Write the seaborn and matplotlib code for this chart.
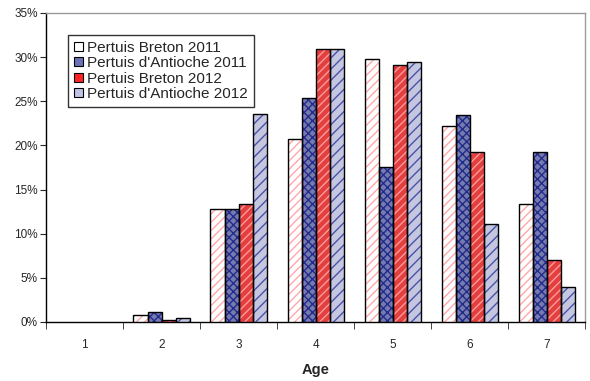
import numpy as np
import pandas as pd
import seaborn as sns
import matplotlib.pyplot as plt
from matplotlib.patches import Rectangle, Patch
from matplotlib.ticker import MultipleLocator, PercentFormatter

ages = ["1", "2", "3", "4", "5", "6", "7"]
series = ["Pertuis Breton 2011", "Pertuis d'Antioche 2011",
          "Pertuis Breton 2012", "Pertuis d'Antioche 2012"]
pb_2011 = [0.0, 0.8, 12.8, 20.7, 29.8, 22.2, 13.4]
pa_2011 = [0.0, 1.1, 12.8, 25.4, 17.6, 23.4, 19.2]
pb_2012 = [0.0, 0.2, 13.4, 30.9, 29.1, 19.2, 7.0]
pa_2012 = [0.0, 0.4, 23.6, 30.9, 29.5, 11.1, 4.0]

faces = ["#ffffff", "#6c72b8", "#ff2424", "#c0c3e6"]
hatch_cols = ["#ffa8a8", "#232b8c", "#ff9a9a", "#4a52a8"]
hatches = ["////", "xxxx", "////", "///"]

df = pd.DataFrame({
    "Age": ages * 4,
    "value": pb_2011 + pa_2011 + pb_2012 + pa_2012,
    "series": np.repeat(series, len(ages)),
})

sns.set_style("white")
plt.rcParams['font.family'] = ['Liberation Sans', 'DejaVu Sans']

fig = plt.figure(figsize=(5.9, 3.81), dpi=100)
ax = fig.add_axes([0.078, 0.155, 0.914, 0.811])

sns.barplot(data=df, x="Age", y="value", hue="series", hue_order=series,
            palette=faces, width=0.73, gap=0, linewidth=0,
            ax=ax, legend=False, zorder=3)

# hatch overlays and black outlines (skip empty bars)
for cont, hc, h in zip(ax.containers, hatch_cols, hatches):
    for bar in cont:
        if bar.get_height() <= 0:
            bar.set_visible(False)
            continue
        ax.add_patch(Rectangle(bar.get_xy(), bar.get_width(), bar.get_height(),
                               facecolor="none", edgecolor=hc, hatch=h, lw=0, zorder=3.5))
        ax.add_patch(Rectangle(bar.get_xy(), bar.get_width(), bar.get_height(),
                               facecolor="none", edgecolor="black", lw=1, zorder=4))

ax.set_ylim(0, 35)
ax.set_xlim(-0.5, 6.5)
ax.yaxis.set_major_locator(MultipleLocator(5))
ax.yaxis.set_major_formatter(PercentFormatter(decimals=0))
ax.tick_params(axis="y", labelsize=8.5, length=4, direction="out", left=True, pad=2)
ax.set_xticks(np.arange(len(ages)))
ax.set_xticklabels(ages)
ax.tick_params(axis="x", labelsize=8.5, length=0, pad=12)
ax.set_xticks(np.arange(-0.5, len(ages)), minor=True)
ax.tick_params(axis="x", which="minor", length=5, direction="out", bottom=True)
ax.set_xlabel("Age", fontsize=10.5, fontweight="bold", labelpad=9)
ax.set_ylabel("")

for s in ["left", "bottom"]:
    ax.spines[s].set_color("black")
    ax.spines[s].set_linewidth(1)
for s in ["top", "right"]:
    ax.spines[s].set_color("#9a9a9a")
    ax.spines[s].set_linewidth(1)

handles = [Patch(facecolor=f, edgecolor="black", lw=0.8) for f in faces]
leg = ax.legend(handles, series, loc="upper left", bbox_to_anchor=(0.041, 0.93),
                fontsize=11, frameon=True, fancybox=False, borderpad=0.4,
                handlelength=0.55, handleheight=0.55, handletextpad=0.3,
                labelspacing=0.1, borderaxespad=0)
leg.get_frame().set_edgecolor("black")
leg.get_frame().set_linewidth(1)

fig.savefig("out.png", dpi=100)
